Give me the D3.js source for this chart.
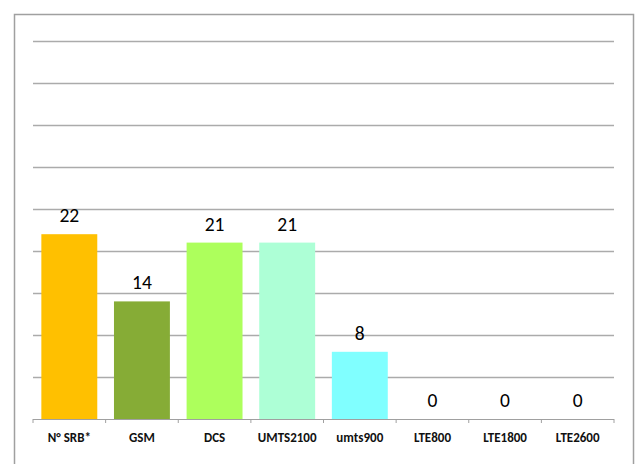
<!DOCTYPE html>
<html><head><meta charset="utf-8">
<script src="https://cdn.jsdelivr.net/npm/d3@7"></script>
<style>
html,body{margin:0;padding:0;background:#fff;overflow:hidden;}
svg{display:block;}
</style></head>
<body>
<script>
const categories = ["N° SRB*", "GSM", "DCS", "UMTS2100", "umts900", "LTE800", "LTE1800", "LTE2600"];
const values = [22, 14, 21, 21, 8, 0, 0, 0];
const colors = ["#FFC000", "#86AC36", "#ADFF5C", "#ADFFD6", "#80FFFF", "#FFFFFF", "#FFFFFF", "#FFFFFF"];
const yTicks = [5, 10, 15, 20, 25, 30, 35, 40, 45];

(function () {
const W = 639, H = 464;
const svg = d3.select("body").append("svg").attr("width", W).attr("height", H);

// outer frame
svg.append("rect").attr("x", 14.5).attr("y", 14.5).attr("width", 619).attr("height", 460)
  .attr("fill", "#fff").attr("stroke", "#a0a0a0").attr("stroke-width", 1.5);

const mLeft = 33, mRight = 614, mTop = 41, mBottom = 419;
const x = d3.scaleBand().domain(categories).range([mLeft, mRight]).paddingInner(0.23).paddingOuter(0.115);
const y = d3.scaleLinear().domain([0, 45]).range([mBottom, mTop]);

// gridlines
svg.append("g").selectAll("line").data(yTicks).join("line")
  .attr("x1", mLeft).attr("x2", mRight)
  .attr("y1", d => Math.round(y(d)) + 0.5).attr("y2", d => Math.round(y(d)) + 0.5)
  .attr("stroke", "#ababab").attr("stroke-width", 1.5);

// bars
svg.append("g").selectAll("rect").data(values).join("rect")
  .attr("x", (d, i) => x(categories[i]))
  .attr("width", x.bandwidth())
  .attr("y", d => y(d))
  .attr("height", d => y(0) - y(d))
  .attr("fill", (d, i) => colors[i]);

// x axis
const xEdge = d3.scaleLinear().domain([0, categories.length]).range([mLeft, mRight]);
const axisG = svg.append("g");
axisG.append("line").attr("x1", mLeft).attr("x2", mRight).attr("y1", mBottom + 0.5).attr("y2", mBottom + 0.5)
  .attr("stroke", "#a0a0a0").attr("stroke-width", 1.2);
axisG.selectAll("line.tick").data(d3.range(categories.length + 1)).join("line").attr("class", "tick")
  .attr("x1", d => xEdge(d)).attr("x2", d => xEdge(d))
  .attr("y1", mBottom).attr("y2", mBottom + 4)
  .attr("stroke", "#a0a0a0").attr("stroke-width", 1);
axisG.selectAll("text").data(categories).join("text")
  .attr("x", d => x(d) + x.bandwidth() / 2)
  .attr("y", 442)
  .attr("text-anchor", "middle")
  .attr("font-family", "Carlito, Lato, 'Open Sans', sans-serif")
  .attr("font-size", 13).attr("font-weight", "bold").attr("fill", "#111")
  .text(d => d);

// value labels
svg.append("g").selectAll("text").data(values).join("text")
  .attr("x", (d, i) => x(categories[i]) + x.bandwidth() / 2)
  .attr("y", d => y(d) - 12)
  .attr("text-anchor", "middle")
  .attr("font-family", "Carlito, Lato, 'Open Sans', sans-serif")
  .attr("font-size", 19.5).attr("fill", "#000")
  .text(d => d);
})();
</script>
</body></html>
